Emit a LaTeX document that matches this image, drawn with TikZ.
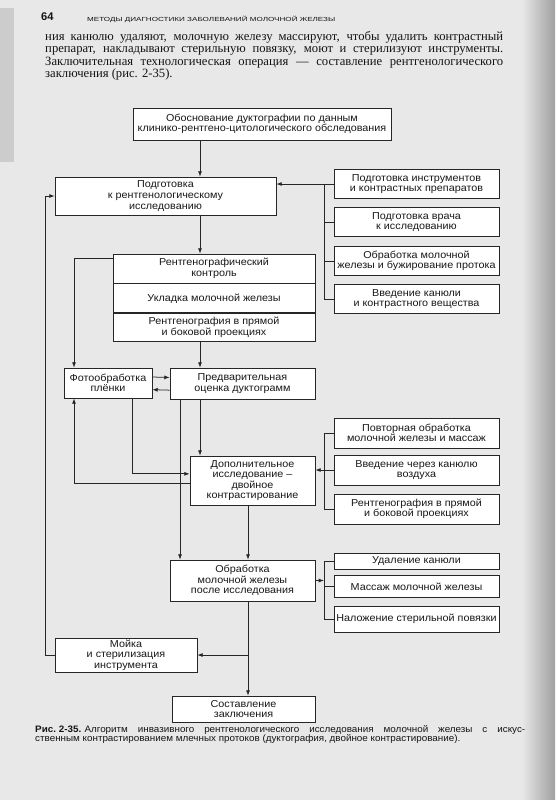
\documentclass[tikz,border=0pt]{standalone}
\usepackage{fontspec}
\setmainfont{Liberation Serif}
\setsansfont{Liberation Sans}
\newfontfamily\boxfont{Liberation Sans}[FakeStretch=1.07]
\newfontfamily\capfont{Liberation Sans}[FakeStretch=1.05]
\usetikzlibrary{arrows.meta,positioning,calc}
\definecolor{pagebg}{gray}{0.91}
\tikzset{bx/.style={draw=black!85,fill=white,line width=.65pt,align=center,inner sep=.5pt,text=black!90,font=\boxfont\fontsize{8.6}{9}\selectfont},
 rb/.style={bx,minimum width=49.5mm,minimum height=8.7mm},
 flow/.style={-{Latex[length=1.6mm,width=1.2mm]},line width=.65pt,draw=black!85},
 wire/.style={line width=.65pt,draw=black!85},
 txt/.style={anchor=base west,inner sep=0pt,text=black!92}}

\begin{document}
\begin{tikzpicture}[x=.3mm,y=-.3mm]
\useasboundingbox (0,0) rectangle (555,800);
\fill[pagebg] (0,0) rectangle (555,800);
\fill[gray!40] (0,8) rectangle (14,162);
\shade[left color=pagebg,right color=gray!75] (522,0) rectangle (555,800);
% page head and text
\node[txt,font=\sffamily\bfseries\fontsize{9.5}{9.5}\selectfont](pg) at (41,21){64};
\node[txt](hdr) at (87,21){\resizebox{74.4mm}{1.6mm}{\sffamily МЕТОДЫ ДИАГНОСТИКИ ЗАБОЛЕВАНИЙ МОЛОЧНОЙ ЖЕЛЕЗЫ}};
\node[txt,font=\fontsize{10.8}{12}\selectfont](p1) at (45,40){\makebox[137.4mm][s]{ния канюлю удаляют, молочную железу массируют, чтобы удалить контрастный}};
\node[txt,font=\fontsize{10.8}{12}\selectfont](p2) at (45,52.6){\makebox[137.4mm][s]{препарат, накладывают стерильную повязку, моют и стерилизуют инструменты.}};
\node[txt,font=\fontsize{10.8}{12}\selectfont](p3) at (45,65.2){\makebox[137.4mm][s]{Заключительная технологическая операция — составление рентгенологического}};
\node[txt,font=\fontsize{10.8}{12}\selectfont](p4) at (45,77.8){заключения (рис. 2-35).};
% flowchart
\node[bx,minimum width=77.4mm,minimum height=9.6mm](obosn) at (262,124){Обоснование дуктографии по данным\\клинико-рентгено-цитологического обследования};
\node[bx,minimum width=66.3mm,minimum height=11.4mm](podg) at (165.5,196){Подготовка\\к рентгенологическому\\исследованию};
\node[rb](instr) at (416.5,184){Подготовка инструментов\\и контрастных препаратов};
\node[rb](vrach) at (416.5,222){Подготовка врача\\к исследованию};
\node[rb](bug) at (416.5,261){Обработка молочной\\железы и бужирование протока};
\node[rb](kan) at (416.5,299){Введение канюли\\и контрастного вещества};
\node[bx,minimum width=60.6mm,minimum height=8.7mm](kontr) at (214,268.5){Рентгенографический\\контроль};
\node[bx,minimum width=60.6mm,minimum height=8.7mm,below=0pt of kontr](ukl){Укладка молочной железы};
\node[bx,minimum width=60.6mm,minimum height=8.4mm,below=0pt of ukl](snim){Рентгенография в прямой\\и боковой проекциях};
\node[bx,minimum width=26.4mm,minimum height=9mm](foto) at (108,383){Фотообработка\\плёнки};
\node[bx,minimum width=43.5mm,minimum height=9.3mm](predv) at (242.5,383.5){Предварительная\\оценка дуктограмм};
\node[bx,minimum width=37.5mm,minimum height=14.7mm](dop) at (252.5,480.5){Дополнительное\\исследование –\\двойное\\контрастирование};
\node[rb,minimum height=9mm](povt) at (416.5,433){Повторная обработка\\молочной железы и массаж};
\node[rb,minimum height=9mm](vozd) at (416.5,470){Введение через канюлю\\воздуха};
\node[rb,minimum height=9mm](snim2) at (416.5,509){Рентгенография в прямой\\и боковой проекциях};
\node[bx,minimum width=43.5mm,minimum height=12.3mm](obr) at (242.5,580.5){Обработка\\молочной железы\\после исследования};
\node[rb,minimum height=4.8mm](udal) at (416.5,561){Удаление канюли};
\node[rb,minimum height=6.6mm](mass) at (416.5,586.5){Массаж молочной железы};
\node[rb,minimum height=7.8mm](nal) at (416.5,619){Наложение стерильной повязки};
\node[bx,minimum width=42.6mm,minimum height=10.2mm,inner sep=1.5pt](moika) at (126,655){Мойка\\и стерилизация\\инструмента};
\node[bx,minimum width=42.9mm,minimum height=7.8mm](zakl) at (243.5,709){Составление\\заключения};
% x levels of the vertical runs
\coordinate (mx) at (200,0);\coordinate (lx) at (74,0);\coordinate (fx) at (132,0);
\coordinate (dx) at (180,0);\coordinate (ex) at (248,0);\coordinate (br) at (324,0);
\coordinate (lp) at (45,0);
\draw[flow](obosn.south-|mx)--(podg.north-|mx);
\draw[flow](instr.west)--(instr.west-|podg.east);
\draw[wire](instr.west-|br)--(kan.west-|br);
\draw[wire](vrach.west)--(vrach.west-|br);\draw[wire](bug.west)--(bug.west-|br);
\draw[wire](kan.west)--(kan.west-|br);
\draw[flow](podg.south-|mx)--(kontr.north-|mx);
\draw[flow]([yshift=-1.5mm]kontr.north west)-|(foto.north-|lx);
\draw[flow](snim.south-|mx)--(predv.north-|mx);
\draw[flow]([yshift=1.8mm]foto.east)--([yshift=1.8mm]predv.west);
\draw[flow]([yshift=-2mm]predv.west)--([yshift=-2mm]foto.east);
\draw[flow](foto.south-|fx)|-([yshift=2mm]dop.west);
\draw[flow]([yshift=-1mm]dop.west)-|(foto.south-|lx);
\draw[flow](predv.south-|mx)--(dop.north-|mx);
\draw[flow](predv.south-|dx)--(obr.north-|dx);
\draw[flow](vozd.west)--(vozd.west-|dop.east);
\draw[wire](povt.west-|br)--(snim2.west-|br);
\draw[wire](povt.west)--(povt.west-|br);\draw[wire](snim2.west)--(snim2.west-|br);
\draw[flow](dop.south-|ex)--(obr.north-|ex);
\draw[flow](obr.east)--(obr.east-|br);
\draw[wire](udal.west-|br)--(nal.west-|br);
\draw[wire](udal.west)--(udal.west-|br);\draw[wire](mass.west)--(mass.west-|br);
\draw[wire](nal.west)--(nal.west-|br);
\draw[flow](obr.south-|ex)--(zakl.north-|ex);
\draw[flow](moika.east-|ex)--(moika.east);
\draw[flow](moika.west)--(moika.west-|lp)|-(podg.west);
% caption
\node[txt,font=\capfont\fontsize{8}{9}\selectfont](cap1) at (35,732){\makebox[147mm][s]{\textbf{Рис.\kern.3em2-35.}\kern.35em Алгоритм инвазивного рентгенологического исследования молочной железы с искус-}};
\node[txt,font=\capfont\fontsize{8}{9}\selectfont](cap2) at (35,741.5){ственным контрастированием млечных протоков (дуктография, двойное контрастирование).};
\end{tikzpicture}
\end{document}
